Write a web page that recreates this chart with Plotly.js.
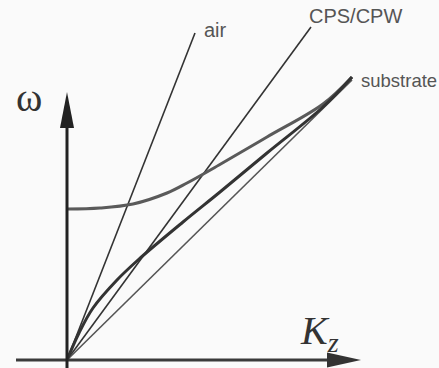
<!DOCTYPE html>
<html>
<head>
<meta charset="utf-8">
<script src="https://cdn.plot.ly/plotly-3.0.1.min.js"></script>
<style>html,body{margin:0;padding:0;background:#fafafa;}#chart{width:439px;height:368px;}</style>
</head>
<body>
<div id="chart"></div>
<script>
// Wavenumber K_z and frequency omega values (arbitrary units)
const airK = [0, 1.28];
const airW = [0, 3.27];
const cpsK = [0, 2.44];
const cpsW = [0, 3.33];
const subLineK = [0, 2.85];
const subLineW = [0, 2.80];
const surfK = [0, 0.12, 0.26, 0.50, 0.71, 1.16, 1.53, 2.00, 2.56, 2.85];
const surfW = [0, 0.27, 0.52, 0.80, 1.00, 1.38, 1.68, 2.07, 2.53, 2.83];
const highK = [0, 0.33, 0.66, 1.00, 1.20, 1.52, 2.00, 2.56, 2.85];
const highW = [1.51, 1.52, 1.56, 1.67, 1.77, 1.95, 2.23, 2.56, 2.83];
const lineLabels = ['air', 'CPS/CPW', 'substrate'];
const labelK = [1.35, 2.40, 2.92];
const labelW = [3.30, 3.44, 2.80];
const labelSizes = [20, 20, 18.5];

const dark = '#333333';
const traces = [
  {x: airK, y: airW, mode: 'lines', line: {color: dark, width: 1.6}},
  {x: cpsK, y: cpsW, mode: 'lines', line: {color: dark, width: 1.6}},
  {x: subLineK, y: subLineW, mode: 'lines', line: {color: '#555555', width: 1.6}},
  {x: highK, y: highW, mode: 'lines', line: {color: '#5a5a5a', width: 3, shape: 'spline', smoothing: 1}},
  {x: surfK, y: surfW, mode: 'lines', line: {color: dark, width: 3, shape: 'spline', smoothing: 1}}
];

const annotations = lineLabels.map((t, i) => ({
  x: labelK[i], y: labelW[i], text: t, showarrow: false,
  xanchor: 'left', yanchor: 'middle',
  font: {family: 'Liberation Sans, Arial, sans-serif', size: labelSizes[i], color: '#555555'}
}));
annotations.push({x: -0.38, y: 2.63, text: 'ω', showarrow: false,
  xanchor: 'center', yanchor: 'middle',
  font: {family: 'Liberation Serif, serif', size: 40, color: '#333333'}});
annotations.push({x: 2.31, y: 0.27, text: '<i>K</i><sub><i>z</i></sub>', showarrow: false,
  xanchor: 'left', yanchor: 'middle',
  font: {family: 'Liberation Serif, serif', size: 40, color: '#333333'}});

const shapes = [
  {type: 'line', x0: -0.51, y0: 0, x1: 2.62, y1: 0, line: {color: '#3a3a3a', width: 3}},
  {type: 'path', path: 'M 2.60 0.075 L 2.94 0 L 2.60 -0.075 Z', fillcolor: '#333333', line: {width: 0}},
  {type: 'line', x0: 0, y0: -0.1, x1: 0, y1: 2.34, line: {color: '#222222', width: 3}},
  {type: 'path', path: 'M -0.07 2.32 L 0 2.68 L 0.07 2.32 Z', fillcolor: '#222222', line: {width: 0}}
];

Plotly.newPlot('chart', traces, {
  width: 439, height: 368,
  margin: {l: 0, r: 0, t: 0, b: 0},
  paper_bgcolor: '#fafafa', plot_bgcolor: '#fafafa',
  showlegend: false,
  xaxis: {range: [-0.67, 3.72], visible: false, fixedrange: true},
  yaxis: {range: [-0.08, 3.60], visible: false, fixedrange: true},
  annotations: annotations,
  shapes: shapes
}, {displayModeBar: false, staticPlot: true});
</script>
</body>
</html>
